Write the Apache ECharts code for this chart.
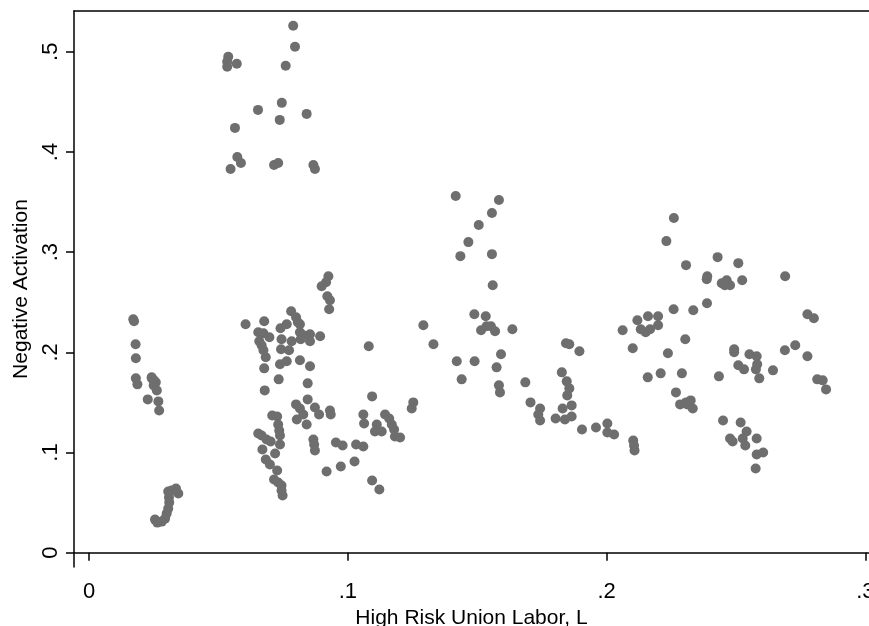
<!DOCTYPE html>
<html><head><meta charset="utf-8">
<script src="https://cdn.jsdelivr.net/npm/echarts@6/dist/echarts.min.js"></script>
<style>html,body{margin:0;padding:0;background:#fff}#c{width:869px;height:626px}</style>
</head><body><div id="c"></div>
<script>
var xTicks = [0, 0.1, 0.2, 0.3];
var xTickLabels = ['0', '.1', '.2', '.3'];
var yTicks = [0, 0.1, 0.2, 0.3, 0.4, 0.5];
var yTickLabels = ['0', '.1', '.2', '.3', '.4', '.5'];
var xTitle = 'High Risk Union Labor, L';
var yTitle = 'Negative Activation';

var groupLowUpper = [[0.0171,0.233],[0.0174,0.231],[0.0180,0.208],[0.0181,0.194],[0.0181,0.174],[0.0187,0.168],[0.0242,0.175],[0.0251,0.172],[0.0243,0.174],[0.0258,0.170],[0.0250,0.167],[0.0262,0.162],[0.0227,0.153],[0.0268,0.151],[0.0271,0.142]];
var groupLowBottom = [[0.0255,0.033],[0.0264,0.030],[0.0281,0.031],[0.0294,0.034],[0.0300,0.039],[0.0306,0.044],[0.0310,0.050],[0.0309,0.055],[0.0306,0.061],[0.0319,0.062],[0.0336,0.064],[0.0345,0.059]];
var groupTop = [[0.0538,0.495],[0.0534,0.490],[0.0534,0.485],[0.0571,0.488],[0.0789,0.526],[0.0796,0.505],[0.0760,0.486],[0.0653,0.442],[0.0745,0.449],[0.0737,0.432],[0.0841,0.438],[0.0564,0.424],[0.0573,0.395],[0.0587,0.389],[0.0547,0.383],[0.0715,0.387],[0.0731,0.389],[0.0867,0.387],[0.0873,0.383]];
var groupMidUpper = [[0.0925,0.276],[0.0916,0.270],[0.0899,0.266],[0.0921,0.256],[0.0931,0.252],[0.0928,0.243],[0.0781,0.241],[0.0605,0.228],[0.0677,0.231],[0.0800,0.235],[0.0807,0.230],[0.0815,0.228],[0.0764,0.228],[0.0740,0.224],[0.0654,0.220],[0.0674,0.219],[0.0697,0.215],[0.0815,0.220],[0.0828,0.217],[0.0854,0.218],[0.0893,0.216],[0.0744,0.213],[0.0783,0.211],[0.0818,0.213],[0.0854,0.211],[0.0658,0.211],[0.0667,0.207],[0.0674,0.202],[0.0742,0.203],[0.0773,0.202],[0.0683,0.195],[0.0738,0.188],[0.0764,0.191],[0.0815,0.192],[0.0677,0.184],[0.0854,0.186],[0.0733,0.173],[0.0845,0.169],[0.0679,0.162]];
var groupMidLower = [[0.0845,0.153],[0.0800,0.148],[0.0815,0.144],[0.0873,0.145],[0.0889,0.138],[0.0931,0.142],[0.0934,0.138],[0.0828,0.138],[0.0803,0.133],[0.0841,0.128],[0.0708,0.137],[0.0727,0.136],[0.0731,0.128],[0.0735,0.122],[0.0738,0.117],[0.0654,0.119],[0.0667,0.117],[0.0686,0.113],[0.0702,0.111],[0.0738,0.108],[0.0670,0.103],[0.0719,0.099],[0.0683,0.093],[0.0699,0.088],[0.0727,0.082],[0.0715,0.073],[0.0731,0.070],[0.0744,0.067],[0.0744,0.062],[0.0748,0.057],[0.0867,0.113],[0.0870,0.108],[0.0873,0.102],[0.0954,0.110],[0.0980,0.107],[0.1032,0.108],[0.1060,0.106],[0.1026,0.091],[0.0973,0.086],[0.0918,0.081]];
var groupCenter = [[0.1081,0.206],[0.1094,0.156],[0.1060,0.138],[0.1063,0.129],[0.1144,0.138],[0.1160,0.134],[0.1170,0.128],[0.1179,0.123],[0.1112,0.128],[0.1105,0.121],[0.1131,0.121],[0.1182,0.116],[0.1202,0.115],[0.1094,0.072],[0.1122,0.063],[0.1253,0.150],[0.1247,0.144],[0.1292,0.227],[0.1331,0.208]];
var groupRightMid = [[0.1417,0.356],[0.1584,0.352],[0.1557,0.339],[0.1506,0.327],[0.1466,0.310],[0.1435,0.296],[0.1557,0.298],[0.1560,0.267],[0.1489,0.238],[0.1533,0.236],[0.1515,0.222],[0.1536,0.226],[0.1553,0.226],[0.1569,0.221],[0.1636,0.223],[0.1421,0.191],[0.1490,0.191],[0.1440,0.173],[0.1592,0.198],[0.1575,0.185],[0.1584,0.167],[0.1588,0.160],[0.1686,0.170],[0.1706,0.150],[0.1743,0.144],[0.1736,0.138],[0.1743,0.132],[0.1803,0.134],[0.1839,0.133],[0.1865,0.136],[0.1830,0.144],[0.1865,0.147],[0.1827,0.180],[0.1846,0.171],[0.1856,0.164],[0.1848,0.157],[0.1843,0.209],[0.1856,0.208],[0.1895,0.201],[0.1905,0.123],[0.1959,0.125],[0.2003,0.129],[0.2003,0.120],[0.2029,0.118],[0.2103,0.112],[0.2106,0.107],[0.2108,0.102]];
var groupFarRight = [[0.2260,0.334],[0.2231,0.311],[0.2429,0.295],[0.2307,0.287],[0.2509,0.289],[0.2690,0.276],[0.2389,0.276],[0.2387,0.273],[0.2445,0.269],[0.2464,0.272],[0.2477,0.267],[0.2457,0.267],[0.2524,0.272],[0.2388,0.249],[0.2259,0.243],[0.2335,0.242],[0.2776,0.238],[0.2801,0.234],[0.2119,0.232],[0.2160,0.236],[0.2199,0.236],[0.2062,0.222],[0.2132,0.223],[0.2151,0.220],[0.2168,0.223],[0.2199,0.227],[0.2304,0.213],[0.2101,0.204],[0.2237,0.199],[0.2493,0.203],[0.2493,0.200],[0.2689,0.202],[0.2729,0.207],[0.2552,0.198],[0.2580,0.196],[0.2776,0.196],[0.2509,0.187],[0.2531,0.183],[0.2582,0.188],[0.2577,0.183],[0.2643,0.182],[0.2590,0.174],[0.2814,0.173],[0.2835,0.172],[0.2848,0.163],[0.2159,0.175],[0.2209,0.179],[0.2291,0.179],[0.2434,0.176],[0.2268,0.160],[0.2284,0.148],[0.2307,0.150],[0.2325,0.152],[0.2333,0.144],[0.2312,0.148],[0.2450,0.132],[0.2518,0.130],[0.2541,0.121],[0.2477,0.114],[0.2487,0.111],[0.2526,0.114],[0.2536,0.107],[0.2580,0.114],[0.2580,0.098],[0.2605,0.100],[0.2576,0.084]];

var allPoints = [].concat(groupLowUpper, groupLowBottom, groupTop, groupMidUpper, groupMidLower, groupCenter, groupRightMid, groupFarRight);

var FONT = 'Liberation Sans';
var chart = echarts.init(document.getElementById('c'), null, {renderer: 'canvas'});
function lab(ticks, labels) { return function (v) { for (var i = 0; i < ticks.length; i++) { if (Math.abs(ticks[i] - v) < 1e-9) return labels[i]; } return ''; }; }
chart.setOption({
  animation: false,
  backgroundColor: '#fff',
  grid: {left: 74, right: 0, top: 11, bottom: 59, containLabel: false, outerBoundsMode: 'none'},
  xAxis: [{
    type: 'value', min: -0.0058, max: 0.3014,
    axisLine: {show: true, lineStyle: {color: '#000', width: 1.5}},
    axisTick: {show: true, length: 8, customValues: xTicks, lineStyle: {color: '#000', width: 1.5}},
    axisLabel: {show: true, customValues: xTicks, formatter: lab(xTicks, xTickLabels), margin: 14, color: '#000', fontFamily: FONT, fontSize: 22},
    splitLine: {show: false},
    name: xTitle, nameLocation: 'middle', nameGap: 33,
    nameTextStyle: {color: '#000', fontFamily: FONT, fontSize: 21}
  }, {
    type: 'value', position: 'top', min: -0.0058, max: 0.3014,
    axisLine: {show: true, onZero: false, lineStyle: {color: '#000', width: 1.5}},
    axisTick: {show: false}, axisLabel: {show: false}, splitLine: {show: false}
  }],
  yAxis: {
    type: 'value', min: -0.0143, max: 0.5407,
    axisLine: {show: true, onZero: false, lineStyle: {color: '#000', width: 1.5}},
    axisTick: {show: true, length: 8, customValues: yTicks, lineStyle: {color: '#000', width: 1.5}},
    axisLabel: {show: true, customValues: yTicks, formatter: lab(yTicks, yTickLabels), rotate: 90, margin: 12, color: '#000', fontFamily: FONT, fontSize: 22},
    splitLine: {show: false},
    name: yTitle, nameLocation: 'middle', nameGap: 41, nameRotate: 90,
    nameTextStyle: {color: '#000', fontFamily: FONT, fontSize: 21}
  },
  series: [{
    type: 'scatter', xAxisIndex: 0, yAxisIndex: 0,
    data: allPoints, symbol: 'circle', symbolSize: 10,
    itemStyle: {color: '#6e6e6e', opacity: 1},
    emphasis: {disabled: true}
  }]
});
</script></body></html>
